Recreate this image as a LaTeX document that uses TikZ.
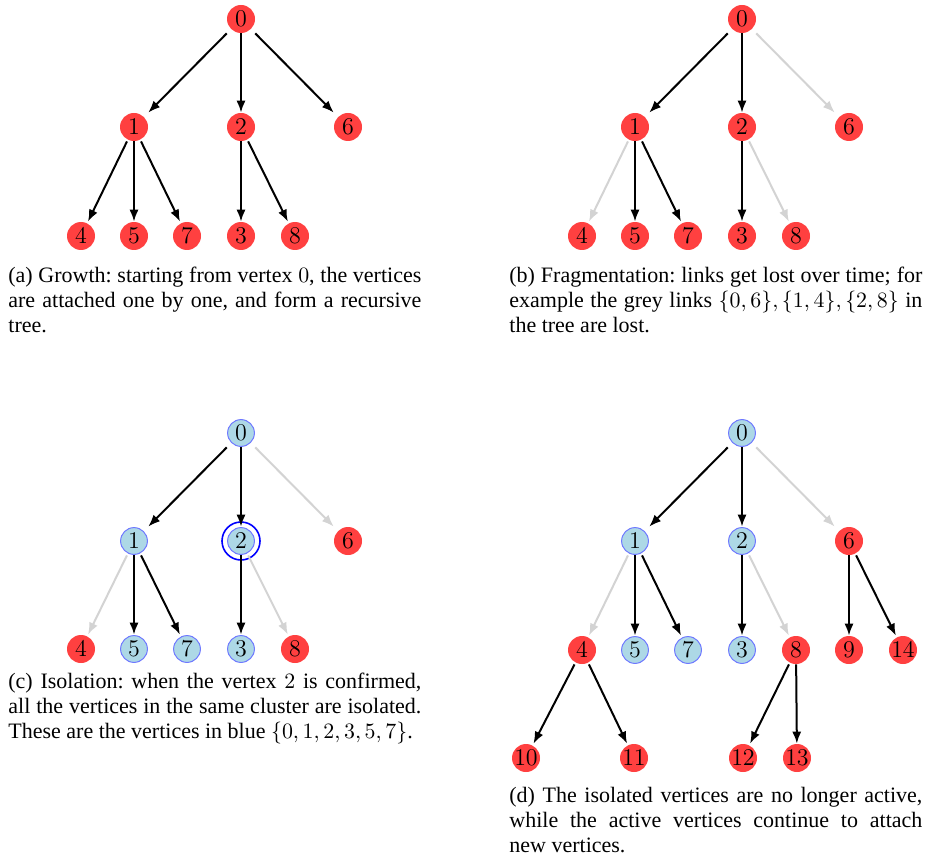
\documentclass[tikz,border=0pt]{standalone}
\usepackage{fontspec}
\setmainfont{Liberation Serif}
\usetikzlibrary{arrows.meta}
\definecolor{vred}{RGB}{255,64,64}
\definecolor{vblue}{RGB}{173,216,230}
\definecolor{vborder}{RGB}{110,120,255}
\definecolor{lostgrey}{RGB}{211,211,211}
\frenchspacing
\hyphenpenalty=10000
\begin{document}
\begin{tikzpicture}[x=0.5pt,y=-0.5pt,
  vtx/.style={rectangle, minimum size=14pt, inner sep=0pt, font=\fontsize{11.5}{12}\selectfont},
  rv/.style={vtx, path picture={\fill[vred] (path picture bounding box.center) circle (7pt);}},
  bv/.style={vtx, path picture={\fill[vblue] (path picture bounding box.center) circle (6.7pt);
     \draw[vborder, line width=0.5pt] (path picture bounding box.center) circle (6.7pt);}},
  edge/.style={-{Latex[length=6pt,width=4.6pt]}, line width=1pt, black},
  lost/.style={edge, lostgrey},
  captext/.style={anchor=north west, inner sep=0pt, text width=206.5pt, align=justify,
     font=\fontsize{11}{12.4}\selectfont},
  ring/.style={draw=blue, line width=0.8pt}
]
\useasboundingbox (0,0) rectangle (926,866);

% ---------- panel (a)
\node[rv] (a0) at (241,19) {$0$};
\node[rv] (a1) at (134,127) {$1$};
\node[rv] (a2) at (241,127) {$2$};
\node[rv] (a6) at (348,127) {$6$};
\node[rv] (a4) at (81,236) {$4$};
\node[rv] (a5) at (134,236) {$5$};
\node[rv] (a7) at (187,236) {$7$};
\node[rv] (a3) at (241,236) {$3$};
\node[rv] (a8) at (295,236) {$8$};
\draw[edge] (a0) -- (a1);
\draw[edge] (a0) -- (a2);
\draw[edge] (a0) -- (a6);
\draw[edge] (a1) -- (a4);
\draw[edge] (a1) -- (a5);
\draw[edge] (a1) -- (a7);
\draw[edge] (a2) -- (a3);
\draw[edge] (a2) -- (a8);
\node[captext] (capa) at (8,267) {(a) Growth: starting from vertex $0$, the vertices are attached one by one, and form a recursive tree.};

% ---------- panel (b)
\node[rv] (b0) at (742,19) {$0$};
\node[rv] (b1) at (635,127) {$1$};
\node[rv] (b2) at (742,127) {$2$};
\node[rv] (b6) at (849,127) {$6$};
\node[rv] (b4) at (582,236) {$4$};
\node[rv] (b5) at (635,236) {$5$};
\node[rv] (b7) at (688,236) {$7$};
\node[rv] (b3) at (742,236) {$3$};
\node[rv] (b8) at (796,236) {$8$};
\draw[edge] (b0) -- (b1);
\draw[edge] (b0) -- (b2);
\draw[lost] (b0) -- (b6);
\draw[lost] (b1) -- (b4);
\draw[edge] (b1) -- (b5);
\draw[edge] (b1) -- (b7);
\draw[edge] (b2) -- (b3);
\draw[lost] (b2) -- (b8);
\node[captext] (capb) at (509,267) {(b) Fragmentation: links get lost over time; for example the grey links $\{0,6\},\{1,4\},\{2,8\}$ in the tree are lost.};

% ---------- panel (c)
\node[bv] (c0) at (241,433) {$0$};
\node[bv] (c1) at (134,541) {$1$};
\node[bv] (c2) at (241,541) {$2$};
\node[rv] (c6) at (348,541) {$6$};
\node[rv] (c4) at (81,649) {$4$};
\node[bv] (c5) at (134,649) {$5$};
\node[bv] (c7) at (187,649) {$7$};
\node[bv] (c3) at (241,649) {$3$};
\node[rv] (c8) at (295,649) {$8$};
\draw[ring] (c2.center) circle (9.5pt);
\draw[edge] (c0) -- (c1);
\draw[edge] (c0) -- (c2);
\draw[lost] (c0) -- (c6);
\draw[lost] (c1) -- (c4);
\draw[edge] (c1) -- (c5);
\draw[edge] (c1) -- (c7);
\draw[edge] (c2) -- (c3);
\draw[lost] (c2) -- (c8);
\node[captext] (capc) at (8,673) {(c) Isolation: when the vertex $2$ is confirmed, all the vertices in the same cluster are isolated. These are the vertices in blue $\{0,1,2,3,5,7\}$.};

% ---------- panel (d)
\node[bv] (d0) at (742,433) {$0$};
\node[bv] (d1) at (635,541) {$1$};
\node[bv] (d2) at (742,541) {$2$};
\node[rv] (d6) at (849,541) {$6$};
\node[rv] (d4) at (582,650) {$4$};
\node[bv] (d5) at (635,650) {$5$};
\node[bv] (d7) at (688,650) {$7$};
\node[bv] (d3) at (742,650) {$3$};
\node[rv] (d8) at (796,650) {$8$};
\node[rv] (d9) at (849,650) {$9$};
\node[rv] (d14) at (903,650) {$14$};
\node[rv] (d10) at (526,758) {$10$};
\node[rv] (d11) at (634,758) {$11$};
\node[rv] (d12) at (743,758) {$12$};
\node[rv] (d13) at (797,758) {$13$};
\draw[edge] (d0) -- (d1);
\draw[edge] (d0) -- (d2);
\draw[lost] (d0) -- (d6);
\draw[lost] (d1) -- (d4);
\draw[edge] (d1) -- (d5);
\draw[edge] (d1) -- (d7);
\draw[edge] (d2) -- (d3);
\draw[lost] (d2) -- (d8);
\draw[edge] (d6) -- (d9);
\draw[edge] (d6) -- (d14);
\draw[edge] (d4) -- (d10);
\draw[edge] (d4) -- (d11);
\draw[edge] (d8) -- (d12);
\draw[edge] (d8) -- (d13);
\node[captext] (capd) at (509,787) {(d) The isolated vertices are no longer active, while the active vertices continue to attach\linebreak new vertices.};
\end{tikzpicture}
\end{document}
